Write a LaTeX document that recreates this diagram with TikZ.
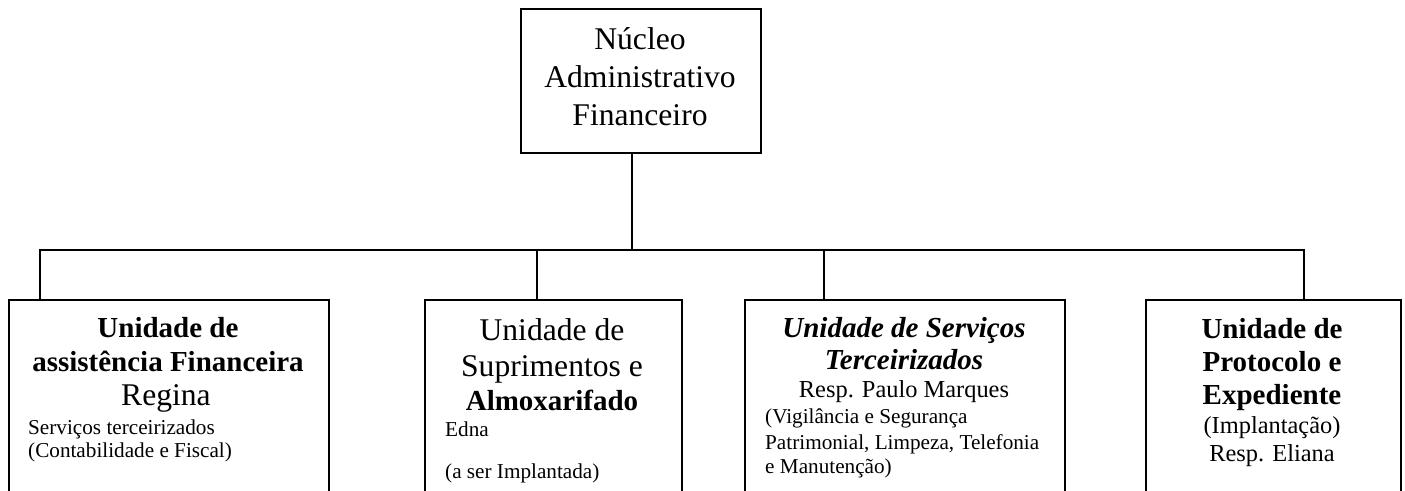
\documentclass[tikz,border=0pt]{standalone}
\usepackage{fontspec}
\setmainfont{Liberation Serif}
\begin{document}
\begin{tikzpicture}[x=1pt,y=-1pt,
  unitbox/.style={draw=black,line width=1.6pt,rectangle,anchor=north west,inner sep=0pt},
  conn/.style={draw=black,line width=1.6pt},
  lbl/.style={inner sep=0pt,anchor=base},
  lbll/.style={inner sep=0pt,anchor=base west},
  tbig/.style={font=\fontsize{31.6}{36}\selectfont},
  tbold/.style={font=\fontsize{29}{33}\selectfont\bfseries},
  tboldit/.style={font=\fontsize{29}{33}\selectfont\bfseries\itshape},
  tmid/.style={font=\fontsize{24.4}{28}\selectfont},
  tsmall/.style={font=\fontsize{21.2}{24}\selectfont}]
\useasboundingbox (0,0) rectangle (1405,490);
\clip (0,0) rectangle (1405,490);
% top box
\node[unitbox,minimum width=240pt,minimum height=144pt] (top) at (520,8) {};
\node[lbl,tbig] (top1) at (640,49) {Núcleo};
\node[lbl,tbig] (top2) at (640,87) {Administrativo};
\node[lbl,tbig] (top3) at (640,125) {Financeiro};
% unit boxes
\node[unitbox,minimum width=320pt,minimum height=230pt] (b1) at (8,299) {};
\node[unitbox,minimum width=257pt,minimum height=230pt] (b2) at (424,299) {};
\node[unitbox,minimum width=320pt,minimum height=230pt] (b3) at (744,299) {};
\node[unitbox,minimum width=255pt,minimum height=230pt] (b4) at (1145,299) {};
% connectors
\coordinate (hub) at (632,250);
\coordinate (d1) at (40,250);
\coordinate (d2) at (537,250);
\coordinate (d3) at (824,250);
\coordinate (d4) at (1304,250);
\draw[conn] (hub |- top.south) -- (hub);
\draw[conn] (d1 |- b1.north) -- (d1) -- (d4) -- (d4 |- b4.north);
\draw[conn] (d2) -- (d2 |- b2.north);
\draw[conn] (d3) -- (d3 |- b3.north);
% box 1
\node[lbl,tbold] (b1a) at (168,337) {Unidade de};
\node[lbl,tbold] (b1b) at (168,371) {assistência Financeira};
\node[lbl,tbig] (b1c) at (166,405) {Regina};
\node[lbll,tsmall] (b1d) at (28,434) {Serviços terceirizados};
\node[lbll,tsmall] (b1e) at (28,457) {(Contabilidade e Fiscal)};
% box 2
\node[lbl,tbig] (b2a) at (552,340) {Unidade de};
\node[lbl,tbig] (b2b) at (552,376) {Suprimentos e};
\node[lbl,tbold] (b2c) at (552,410) {Almoxarifado};
\node[lbll,tsmall] (b2d) at (445,436) {Edna};
\node[lbll,tsmall] (b2e) at (445,478) {(a ser Implantada)};
% box 3
\node[lbl,tboldit] (b3a) at (904,337) {Unidade de Serviços};
\node[lbl,tboldit] (b3b) at (904,369) {Terceirizados};
\node[lbl,tmid] (b3c) at (904,397) {Resp. Paulo Marques};
\node[lbll,tsmall] (b3d) at (765,423) {(Vigilância e Segurança};
\node[lbll,tsmall] (b3e) at (765,449) {Patrimonial, Limpeza, Telefonia};
\node[lbll,tsmall] (b3f) at (765,473) {e Manutenção)};
% box 4
\node[lbl,tbold] (b4a) at (1272,338) {Unidade de};
\node[lbl,tbold] (b4b) at (1272,371) {Protocolo e};
\node[lbl,tbold] (b4c) at (1272,404) {Expediente};
\node[lbl,tmid] (b4d) at (1272,433) {(Implantação)};
\node[lbl,tmid] (b4e) at (1272,461) {Resp. Eliana};
\end{tikzpicture}
\end{document}
